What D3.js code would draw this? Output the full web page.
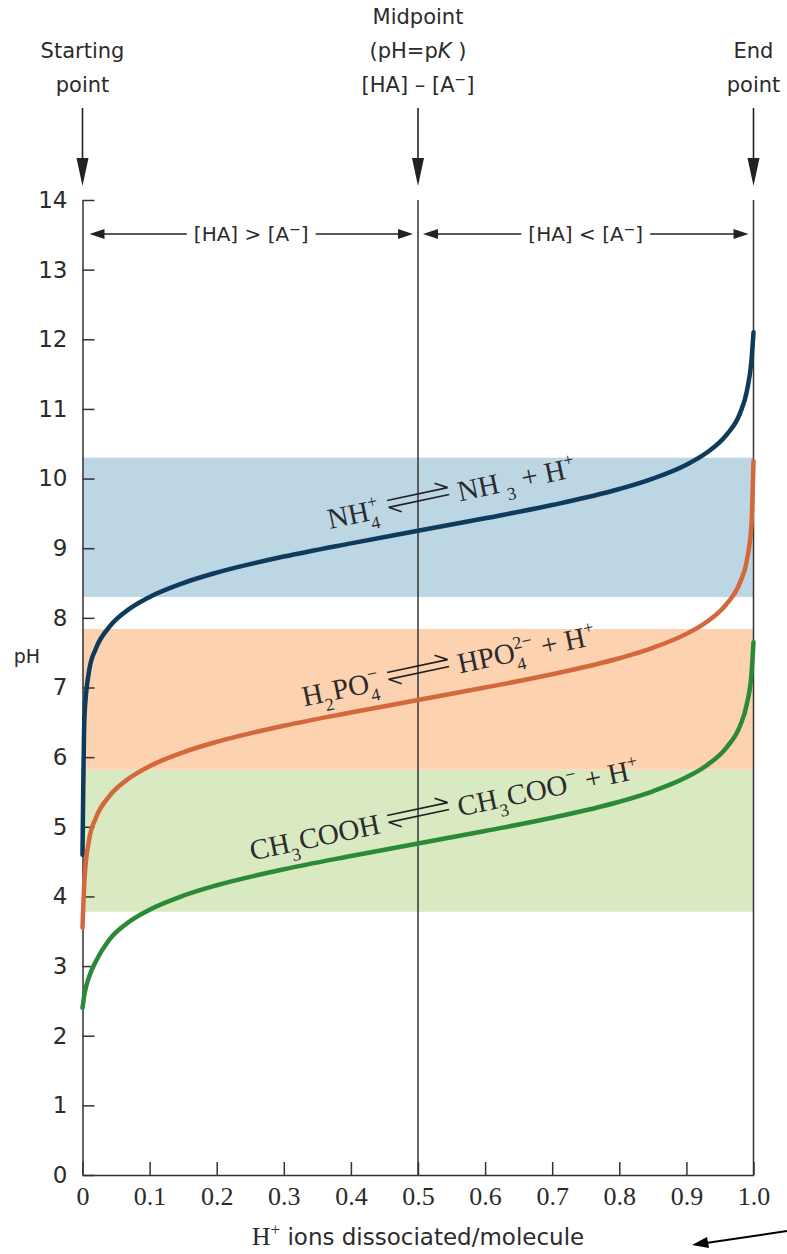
<!DOCTYPE html>
<html>
<head>
<meta charset="utf-8">
<script src="https://cdn.jsdelivr.net/npm/d3@7"></script>
<style>
  body { margin: 0; background: #fff; }
  svg text { font-family: "DejaVu Sans", sans-serif; fill: #2b2b2b; }
  .serif { font-family: "Liberation Serif", "DejaVu Serif", serif; }
</style>
</head>
<body>
<svg id="canvas" width="787" height="1254"></svg>
<script>
// fraction of H+ dissociated (x) and pH
let frac = [0, 0.003, 0.01, 0.02, 0.04, 0.07, 0.1, 0.15, 0.2, 0.3, 0.4, 0.5,
            0.6, 0.7, 0.8, 0.85, 0.9, 0.93, 0.96, 0.98, 0.99, 0.997, 1.0]
let phAmmonium = [4.6, 6.6, 7.25, 7.56, 7.87, 8.13, 8.30, 8.50, 8.65, 8.88, 9.07, 9.25,
                  9.43, 9.62, 9.85, 10.0, 10.2, 10.37, 10.63, 10.94, 11.25, 11.7, 12.1]
let phPhosphate = [3.55, 4.25, 4.82, 5.13, 5.44, 5.70, 5.87, 6.07, 6.22, 6.45, 6.64, 6.82,
                   7.00, 7.19, 7.42, 7.57, 7.77, 7.94, 8.20, 8.51, 8.82, 9.35, 10.25]
let phAcetate = [2.4, 2.6, 2.85, 3.07, 3.38, 3.64, 3.81, 4.01, 4.16, 4.39, 4.58, 4.76,
                 4.94, 5.13, 5.36, 5.51, 5.71, 5.88, 6.14, 6.45, 6.76, 7.2, 7.65]

// buffering ranges (pK +/- 1), drawn in this order
let bandNames = ['NH4', 'CH3COOH', 'H2PO4']
let bandLow = [8.3, 3.78, 5.82]
let bandHigh = [10.3, 5.82, 7.84]
let bandColors = ['#bdd6e4', '#d9e9c2', '#fcd2b1']

let curveColors = ['#0e3a5c', '#d2683c', '#2b8a38']

let xTicks = [0, 0.1, 0.2, 0.3, 0.4, 0.5, 0.6, 0.7, 0.8, 0.9, 1.0]
let xTickLabels = ['0', '0.1', '0.2', '0.3', '0.4', '0.5', '0.6', '0.7', '0.8', '0.9', '1.0']
let yTicks = [0, 1, 2, 3, 4, 5, 6, 7, 8, 9, 10, 11, 12, 13, 14]

let canvas = d3.select('#canvas')
let plotLeft = 82.5, plotRight = 753.5, plotTop = 200, plotBottom = 1175

let x = d3.scaleLinear().domain([0, 1]).range([plotLeft, plotRight])
let y = d3.scaleLinear().domain([0, 14]).range([plotBottom, plotTop])

// bands
canvas.selectAll('rect.band')
  .data(bandNames)
  .enter()
  .append('rect')
  .attr('class', 'band')
  .attr('x', x(0))
  .attr('width', x(1) - x(0))
  .attr('y', (d, i) => y(bandHigh[i]))
  .attr('height', (d, i) => y(bandLow[i]) - y(bandHigh[i]))
  .attr('fill', (d, i) => bandColors[i])

// axes
let yAxis = d3.axisLeft(y).tickValues(yTicks).tickSizeInner(-12).tickSizeOuter(0).tickPadding(15)
let gy = canvas.append('g').attr('transform', 'translate(' + plotLeft + ',0)').call(yAxis)
gy.selectAll('text').style('font-size', '23px').style('font-family', 'DejaVu Sans')
gy.selectAll('line, path').attr('stroke', '#333').attr('stroke-width', 1.5)

let xAxis = d3.axisBottom(x).tickValues(xTicks).tickSizeInner(-13).tickSizeOuter(0).tickPadding(12)
  .tickFormat((d, i) => xTickLabels[i])
let gx = canvas.append('g').attr('transform', 'translate(0,' + plotBottom + ')').call(xAxis)
gx.selectAll('text').attr('class', 'serif').style('font-size', '26px')
  .style('font-family', '"Liberation Serif", serif')
gx.selectAll('line, path').attr('stroke', '#333').attr('stroke-width', 1.5)

// midpoint and end point lines
canvas.selectAll('line.guide')
  .data([0.5, 1.0])
  .enter()
  .append('line')
  .attr('class', 'guide')
  .attr('x1', d => x(d)).attr('x2', d => x(d))
  .attr('y1', y(14)).attr('y2', y(0))
  .attr('stroke', '#333').attr('stroke-width', 1.5)

// titration curves
let line = d3.line()
  .x((d, i) => x(frac[i]))
  .y(d => y(d))
  .curve(d3.curveMonotoneX)

canvas.selectAll('path.curve')
  .data([phAmmonium, phPhosphate, phAcetate])
  .enter()
  .append('path')
  .attr('class', 'curve')
  .attr('d', line)
  .attr('fill', 'none')
  .attr('stroke', (d, i) => curveColors[i])
  .attr('stroke-width', 4.5)
  .attr('stroke-linecap', 'round')

// chemical formula helper: strings, or {sup, sub} stacked scripts
let formula = (g, tokens, size) => {
  let cx = 0
  tokens.forEach(t => {
    if (typeof t === 'string') {
      let tx = g.append('text').attr('class', 'serif').attr('x', cx).attr('y', 0)
        .style('font-size', size + 'px').text(t)
      cx += tx.node().getComputedTextLength()
    } else {
      let w = 0
      cx += t.pad || 0
      if (t.sup) {
        let s = g.append('text').attr('class', 'serif').attr('x', cx).attr('y', -size * 0.42)
          .style('font-size', size * 0.62 + 'px').text(t.sup)
        w = Math.max(w, s.node().getComputedTextLength())
      }
      if (t.sub) {
        let s = g.append('text').attr('class', 'serif').attr('x', cx).attr('y', size * 0.32)
          .style('font-size', size * 0.62 + 'px').text(t.sub)
        w = Math.max(w, s.node().getComputedTextLength())
      }
      cx += w + 1
    }
  })
  return cx
}

let equilibrium = (cx, cy, leftTokens, rightTokens) => {
  let g = canvas.append('g').attr('transform', 'translate(' + cx + ',' + cy + ') rotate(-12)')
  g.append('path')
    .attr('d', 'M-31,-3L31,-3M31,-3L19,-10M31,4L-31,4M-31,4L-19,11')
    .attr('fill', 'none').attr('stroke', '#222').attr('stroke-width', 1.6)
  let lg = g.append('g')
  let lw = formula(lg, leftTokens, 29)
  lg.attr('transform', 'translate(' + (-40 - lw) + ',13)')
  let rg = g.append('g').attr('transform', 'translate(40,13)')
  formula(rg, rightTokens, 29)
}

equilibrium(x(0.5), 497,
  ['NH', { sup: '+', sub: '4' }],
  ['NH', { sub: '3', pad: 6 }, '\u00a0+\u00a0H', { sup: '+' }])
equilibrium(x(0.5), 669,
  ['H', { sub: '2' }, 'PO', { sup: '\u2212', sub: '4' }],
  ['HPO', { sup: '2\u2212', sub: '4' }, '\u00a0+\u00a0H', { sup: '+' }])
equilibrium(x(0.5), 812,
  ['CH', { sub: '3' }, 'COOH'],
  ['CH', { sub: '3' }, 'COO', { sup: '\u2212' }, '\u00a0+\u00a0H', { sup: '+' }])

// top annotations
let arrowDown = (px) => {
  canvas.append('line').attr('x1', px).attr('x2', px).attr('y1', 108).attr('y2', 165)
    .attr('stroke', '#222').attr('stroke-width', 1.6)
  canvas.append('path').attr('d', 'M' + (px - 6) + ',158L' + (px + 6) + ',158L' + px + ',186Z')
    .attr('fill', '#222')
}
arrowDown(x(0)); arrowDown(x(0.5)); arrowDown(x(1))

let note = (px, py, txt) => canvas.append('text').attr('x', px).attr('y', py)
  .attr('text-anchor', 'middle').style('font-size', '21px').text(txt)

note(x(0), 58, 'Starting')
note(x(0), 92, 'point')
note(x(0.5), 24, 'Midpoint')
let ph = note(x(0.5), 58, '(pH=p')
ph.append('tspan').style('font-style', 'italic').text('K')
ph.append('tspan').text('\u00a0)')
let eq = note(x(0.5), 92, '[HA] \u2013 [A')
eq.append('tspan').attr('dy', -8).style('font-size', '14px').text('\u2212')
eq.append('tspan').attr('dy', 8).text(']')
note(x(1), 58, 'End')
note(x(1), 92, 'point')

// [HA] vs [A-] range arrows
let rangeArrow = (x0, x1, sign) => {
  let yy = 234
  let mid = (x0 + x1) / 2
  let t = canvas.append('text').attr('x', mid).attr('y', yy + 7).attr('text-anchor', 'middle')
    .style('font-size', '20px').text('[HA] ' + sign + ' [A')
  t.append('tspan').attr('dy', -7).style('font-size', '14px').text('\u2212')
  t.append('tspan').attr('dy', 7).text(']')
  let bb = t.node().getBBox()
  canvas.append('line').attr('x1', x0 + 8).attr('x2', bb.x - 7).attr('y1', yy).attr('y2', yy)
    .attr('stroke', '#222').attr('stroke-width', 1.5)
  canvas.append('line').attr('x1', bb.x + bb.width + 7).attr('x2', x1 - 8).attr('y1', yy).attr('y2', yy)
    .attr('stroke', '#222').attr('stroke-width', 1.5)
  canvas.append('path').attr('d', 'M' + x0 + ',' + yy + 'l15,-5l0,10Z').attr('fill', '#222')
  canvas.append('path').attr('d', 'M' + x1 + ',' + yy + 'l-15,-5l0,10Z').attr('fill', '#222')
}
rangeArrow(x(0) + 7, x(0.5) - 5, '>')
rangeArrow(x(0.5) + 5, x(1) - 5, '<')

// axis titles
canvas.append('text').attr('x', 27).attr('y', 663).attr('text-anchor', 'middle')
  .style('font-size', '19px').text('pH')

let xt = canvas.append('text').attr('x', x(0.5)).attr('y', 1245).attr('text-anchor', 'middle')
xt.append('tspan').attr('class', 'serif').style('font-size', '26px').text('H')
xt.append('tspan').attr('class', 'serif').attr('dy', -10).style('font-size', '17px').text('+')
xt.append('tspan').attr('dy', 10).style('font-size', '23px').text(' ions dissociated/molecule')

// pointer arrow in the lower right corner
canvas.append('line').attr('x1', 787).attr('y1', 1231).attr('x2', 706).attr('y2', 1243)
  .attr('stroke', '#000').attr('stroke-width', 2)
canvas.append('path').attr('d', 'M692,1245L707,1237L709,1248Z').attr('fill', '#000')
</script>
</body>
</html>
